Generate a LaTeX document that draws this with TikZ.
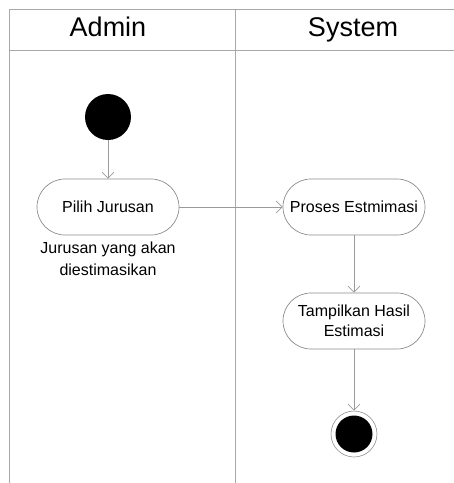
\documentclass[tikz,border=0pt]{standalone}
\usepackage{fontspec}
\setmainfont{Liberation Sans}
\usetikzlibrary{arrows.meta}
\definecolor{lanegray}{HTML}{A8A8A8}
\definecolor{boxgray}{HTML}{8C8C8C}
\definecolor{arrgray}{HTML}{9A9A9A}
\tikzset{
  lane/.style={draw=lanegray, line width=0.9pt},
  actbox/.style={draw=boxgray, line width=0.7pt, rounded corners=28pt, minimum width=142pt, minimum height=56pt, align=center, inner sep=0pt, font=\fontsize{16}{20}\selectfont},
  flow/.style={draw=arrgray, line width=0.7pt, -{Straight Barb[length=6pt,width=12pt,line width=0.7pt]}},
  header/.style={font=\fontsize{27}{30}\selectfont, inner sep=0pt, anchor=base},
  note/.style={align=center, font=\fontsize{16}{21.5}\selectfont, inner sep=0pt}
}
\begin{document}
\begin{tikzpicture}[x=1pt,y=-1pt]
\useasboundingbox (0,0) rectangle (454,483);
% swimlanes
\draw[lane] (9.5,483) -- (9.5,9.5) -- (454,9.5);
\draw[lane] (9.5,50) -- (454,50);
\draw[lane] (235,9.5) -- (235,483);
\node[header] (hadmin) at (108,36) {Admin};
\node[header] (hsystem) at (353,36) {System};
% nodes
\node[circle, fill=black, minimum size=46pt, inner sep=0pt] (start) at (108,117) {};
\node[actbox] (pilih) at (108,207) {Pilih Jurusan};
\node[note] (lbl) at (108,259) {Jurusan yang akan\\diestimasikan};
\node[actbox] (proses) at (354,207) {Proses Estmimasi};
\node[actbox] (tampil) at (354,321) {Tampilkan Hasil\\Estimasi};
\node[circle, draw=boxgray, line width=0.6pt, minimum size=46pt, inner sep=0pt] (endo) at (354,434) {};
\node[circle, fill=black, minimum size=37pt, inner sep=0pt] (endi) at (354,434) {};
% flows
\draw[flow] (start) -- (pilih);
\draw[flow] (pilih) -- (proses);
\draw[flow] (proses) -- (tampil);
\draw[flow] (tampil) -- (endo);
\end{tikzpicture}
\end{document}
